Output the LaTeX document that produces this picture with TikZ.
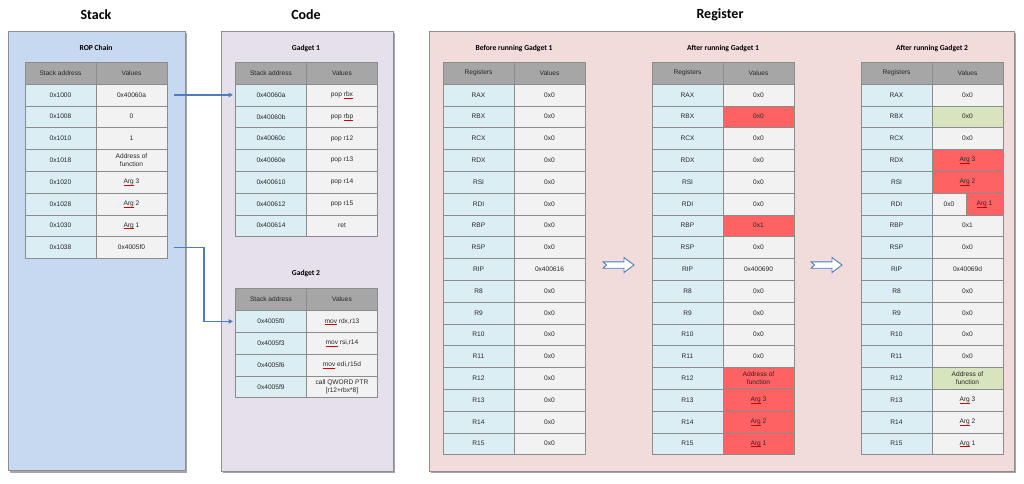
\documentclass[tikz,border=0pt]{standalone}
\usepackage{fontspec}
\setmainfont{Liberation Sans}
\newfontfamily\titlefont{Carlito}
\usetikzlibrary{arrows.meta}
\definecolor{stackbg}{HTML}{C6D9F1}
\definecolor{codebg}{HTML}{E5E0EC}
\definecolor{regbg}{HTML}{F2DCDB}
\definecolor{panelline}{HTML}{8E8E8E}
\definecolor{hdfill}{HTML}{A6A6A6}
\definecolor{lcfill}{HTML}{DBEEF4}
\definecolor{rcfill}{HTML}{F2F2F2}
\definecolor{redhl}{HTML}{FF6262}
\definecolor{greenhl}{HTML}{D7E4BD}
\definecolor{cellline}{HTML}{8C8C8C}
\definecolor{connblue}{HTML}{4F7CBF}
\definecolor{txt}{HTML}{262626}
\newcommand\cf{\fontsize{6.6}{7.8}\selectfont}
\newcommand\sq[1]{\setbox0\hbox{#1}\rlap{\color{red!80!black}\rule[-1.5pt]{\wd0}{0.3pt}}\box0\relax}
\newcommand\hrow[5]{%
  \node[cell,hd,anchor=north west] (#1l) at ({#2},{#3}) {#4};
  \node[cell,hd,anchor=north west] (#1r) at ({#2+71},{#3}) {#5};}
\newcommand\trow[6]{%
  \node[cell,lc,anchor=north west] (#1l) at ({#2},{#3}) {#4};
  \node[cell,rc,#6,anchor=north west] (#1r) at ({#2+71},{#3}) {#5};}
\newcommand\blockarrow[2]{%
  \draw[barrow] (#1,#2-3.2) -- (#1+21,#2-3.2) -- (#1+21,#2-7.5) -- (#1+31,#2)
    -- (#1+21,#2+7.5) -- (#1+21,#2+3.2) -- (#1,#2+3.2) -- (#1+3.5,#2) -- cycle;}
\begin{document}
\begin{tikzpicture}[x=1pt,y=-1pt,
  panel/.style={draw=panelline,line width=0.7pt},
  shadow/.style={fill=black!35,draw=none},
  title/.style={font=\titlefont\bfseries\fontsize{14}{16}\selectfont,text=black,inner sep=0},
  subtitle/.style={font=\titlefont\bfseries\fontsize{7.6}{9}\selectfont,text=black,inner sep=0},
  cell/.style={draw=cellline,line width=0.5pt,minimum width=71pt,minimum height=21.8pt,
    inner sep=0,outer sep=0,align=center,font=\cf,text=txt},
  hd/.style={fill=hdfill,minimum height=22pt},
  lc/.style={fill=lcfill},
  rc/.style={fill=rcfill},
  red/.style={fill=redhl},
  green/.style={fill=greenhl},
  conn/.style={draw=connblue,line width=1.3pt,-{Triangle[length=4.5pt,width=4.5pt]}},
  barrow/.style={draw=connblue,line width=0.9pt,fill=white,line join=miter}]
\useasboundingbox (0,0) rectangle (1024,483);
\fill[white] (0,0) rectangle (1024,483);
% panels
\fill[shadow] (9.5,33) rectangle (186.5,472.5);
\fill[shadow] (222.5,33) rectangle (394.5,473);
\fill[shadow] (430.5,33) rectangle (1015.5,473);
\filldraw[panel,fill=stackbg] (8,31) rectangle (185,470.5);
\filldraw[panel,fill=codebg] (221,31) rectangle (393,471);
\filldraw[panel,fill=regbg] (429,31) rectangle (1014,471);
% titles
\node[title] (tstack) at (96,15) {Stack};
\node[title] (tcode) at (306,15) {Code};
\node[title] (treg) at (720,15) {Register};
\node[subtitle] (trop) at (96,48) {ROP Chain};
\node[subtitle] (tg1) at (306,48) {Gadget 1};
\node[subtitle] (tg2) at (306,273) {Gadget 2};
\node[subtitle] (ta) at (514,48) {Before running Gadget 1};
\node[subtitle] (tb) at (723,48) {After running Gadget 1};
\node[subtitle] (tc) at (932,48) {After running Gadget 2};
% stack table
\hrow{sh}{25}{62.2}{Stack address}{Values}
\trow{s0}{25}{84+21.8*0}{0x1000}{0x40060a}{}
\trow{s1}{25}{84+21.8*1}{0x1008}{0}{}
\trow{s2}{25}{84+21.8*2}{0x1010}{1}{}
\trow{s3}{25}{84+21.8*3}{0x1018}{Address of\\function}{}
\trow{s4}{25}{84+21.8*4}{0x1020}{\sq{Arg} 3}{}
\trow{s5}{25}{84+21.8*5}{0x1028}{\sq{Arg} 2}{}
\trow{s6}{25}{84+21.8*6}{0x1030}{\sq{Arg} 1}{}
\trow{s7}{25}{84+21.8*7}{0x1038}{0x4005f0}{}
% gadget 1
\hrow{gh}{235.5}{62.2}{Stack address}{Values}
\trow{g10}{235.5}{84+21.8*0}{0x40060a}{pop \sq{rbx}}{}
\trow{g11}{235.5}{84+21.8*1}{0x40060b}{pop \sq{rbp}}{}
\trow{g12}{235.5}{84+21.8*2}{0x40060c}{pop r12}{}
\trow{g13}{235.5}{84+21.8*3}{0x40060e}{pop r13}{}
\trow{g14}{235.5}{84+21.8*4}{0x400610}{pop r14}{}
\trow{g15}{235.5}{84+21.8*5}{0x400612}{pop r15}{}
\trow{g16}{235.5}{84+21.8*6}{0x400614}{ret}{}
% gadget 2
\hrow{ghh}{235.5}{288.5}{Stack address}{Values}
\trow{g20}{235.5}{310.5+21.8*0}{0x4005f0}{\sq{mov} rdx,r13}{}
\trow{g21}{235.5}{310.5+21.8*1}{0x4005f3}{\sq{mov} rsi,r14}{}
\trow{g22}{235.5}{310.5+21.8*2}{0x4005f6}{\sq{mov} edi,r15d}{}
\trow{g23}{235.5}{310.5+21.8*3}{0x4005f9}{call QWORD PTR\\{}[r12+rbx*8]}{}
% register table a
\hrow{ah}{443}{62.2}{Registers}{Values}
\trow{a0}{443}{84+21.8*0}{RAX}{0x0}{}
\trow{a1}{443}{84+21.8*1}{RBX}{0x0}{}
\trow{a2}{443}{84+21.8*2}{RCX}{0x0}{}
\trow{a3}{443}{84+21.8*3}{RDX}{0x0}{}
\trow{a4}{443}{84+21.8*4}{RSI}{0x0}{}
\trow{a5}{443}{84+21.8*5}{RDI}{0x0}{}
\trow{a6}{443}{84+21.8*6}{RBP}{0x0}{}
\trow{a7}{443}{84+21.8*7}{RSP}{0x0}{}
\trow{a8}{443}{84+21.8*8}{RIP}{0x400616}{}
\trow{a9}{443}{84+21.8*9}{R8}{0x0}{}
\trow{a10}{443}{84+21.8*10}{R9}{0x0}{}
\trow{a11}{443}{84+21.8*11}{R10}{0x0}{}
\trow{a12}{443}{84+21.8*12}{R11}{0x0}{}
\trow{a13}{443}{84+21.8*13}{R12}{0x0}{}
\trow{a14}{443}{84+21.8*14}{R13}{0x0}{}
\trow{a15}{443}{84+21.8*15}{R14}{0x0}{}
\trow{a16}{443}{84+21.8*16}{R15}{0x0}{}
% register table b
\hrow{bh}{652}{62.2}{Registers}{Values}
\trow{b0}{652}{84+21.8*0}{RAX}{0x0}{}
\trow{b1}{652}{84+21.8*1}{RBX}{0x0}{red}
\trow{b2}{652}{84+21.8*2}{RCX}{0x0}{}
\trow{b3}{652}{84+21.8*3}{RDX}{0x0}{}
\trow{b4}{652}{84+21.8*4}{RSI}{0x0}{}
\trow{b5}{652}{84+21.8*5}{RDI}{0x0}{}
\trow{b6}{652}{84+21.8*6}{RBP}{0x1}{red}
\trow{b7}{652}{84+21.8*7}{RSP}{0x0}{}
\trow{b8}{652}{84+21.8*8}{RIP}{0x400690}{}
\trow{b9}{652}{84+21.8*9}{R8}{0x0}{}
\trow{b10}{652}{84+21.8*10}{R9}{0x0}{}
\trow{b11}{652}{84+21.8*11}{R10}{0x0}{}
\trow{b12}{652}{84+21.8*12}{R11}{0x0}{}
\trow{b13}{652}{84+21.8*13}{R12}{Address of\\function}{red}
\trow{b14}{652}{84+21.8*14}{R13}{\sq{Arg} 3}{red}
\trow{b15}{652}{84+21.8*15}{R14}{\sq{Arg} 2}{red}
\trow{b16}{652}{84+21.8*16}{R15}{\sq{Arg} 1}{red}
% register table c
\hrow{ch}{861}{62.2}{Registers}{Values}
\trow{c0}{861}{84+21.8*0}{RAX}{0x0}{}
\trow{c1}{861}{84+21.8*1}{RBX}{0x0}{green}
\trow{c2}{861}{84+21.8*2}{RCX}{0x0}{}
\trow{c3}{861}{84+21.8*3}{RDX}{\sq{Arg} 3}{red}
\trow{c4}{861}{84+21.8*4}{RSI}{\sq{Arg} 2}{red}
\node[cell,lc,anchor=north west] (c5l) at (861,{84+21.8*5}) {RDI};
\node[cell,rc,minimum width=34pt,anchor=north west] (c5r) at (932,{84+21.8*5}) {0x0};
\node[cell,red,minimum width=37pt,anchor=north west] (c5s) at (966,{84+21.8*5}) {\sq{Arg} 1};
\trow{c6}{861}{84+21.8*6}{RBP}{0x1}{}
\trow{c7}{861}{84+21.8*7}{RSP}{0x0}{}
\trow{c8}{861}{84+21.8*8}{RIP}{0x40069d}{}
\trow{c9}{861}{84+21.8*9}{R8}{0x0}{}
\trow{c10}{861}{84+21.8*10}{R9}{0x0}{}
\trow{c11}{861}{84+21.8*11}{R10}{0x0}{}
\trow{c12}{861}{84+21.8*12}{R11}{0x0}{}
\trow{c13}{861}{84+21.8*13}{R12}{Address of\\function}{green}
\trow{c14}{861}{84+21.8*14}{R13}{\sq{Arg} 3}{}
\trow{c15}{861}{84+21.8*15}{R14}{\sq{Arg} 2}{}
\trow{c16}{861}{84+21.8*16}{R15}{\sq{Arg} 1}{}
% connectors
\draw[conn,shorten >=2.5pt] ([xshift=7pt]s0r.east) -- (g10l.west |- s0r.east);
\draw[conn,shorten >=2.5pt] ([xshift=7pt]s7r.east) -- ([xshift=37pt]s7r.east) |- (g20l.west);
% block arrows
\blockarrow{603}{265}
\blockarrow{811}{265}
\end{tikzpicture}
\end{document}
